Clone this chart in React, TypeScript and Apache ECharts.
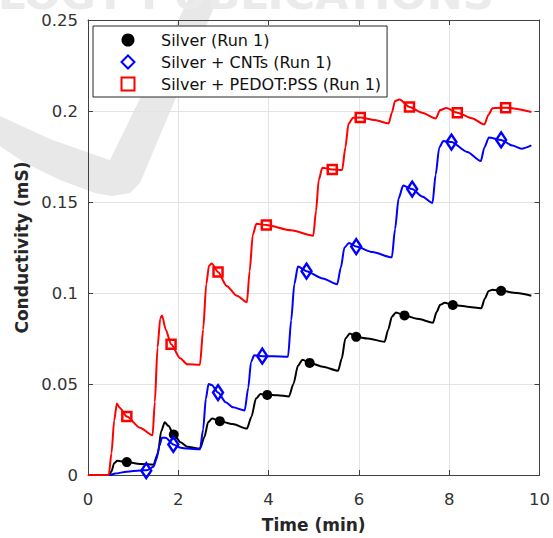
import React, { useEffect, useRef } from "react";
import * as echarts from "echarts";

// ---- Data (time in min, conductivity in mS) ----
const silverLine: [number, number][] = [
  [0, 0], [0.47, 0], [0.52, 0.002], [0.58, 0.0065], [0.65, 0.0078], [0.86, 0.0071], [1.15, 0.0061],
  [1.45, 0.0057], [1.55, 0.012], [1.62, 0.024], [1.7, 0.029], [1.78, 0.027], [1.9, 0.0222], [2.05, 0.018],
  [2.2, 0.0155], [2.48, 0.0145], [2.58, 0.021], [2.66, 0.029], [2.75, 0.031], [2.92, 0.0296], [3.2, 0.028],
  [3.52, 0.0255], [3.62, 0.032], [3.72, 0.042], [3.82, 0.0445], [3.97, 0.044], [4.2, 0.0438], [4.45, 0.0432],
  [4.55, 0.05], [4.65, 0.06], [4.75, 0.0633], [4.91, 0.0616], [5.2, 0.0595], [5.54, 0.0573], [5.62, 0.064],
  [5.7, 0.075], [5.8, 0.0778], [5.94, 0.0759], [6.2, 0.075], [6.57, 0.0732], [6.65, 0.08], [6.73, 0.087],
  [6.82, 0.0893], [7.01, 0.0877], [7.3, 0.0858], [7.64, 0.0837], [7.72, 0.0895], [7.8, 0.0935], [7.9, 0.0946],
  [8.08, 0.0934], [8.4, 0.0925], [8.71, 0.0916], [8.79, 0.097], [8.87, 0.101], [8.96, 0.1018], [9.15, 0.1012],
  [9.5, 0.1], [9.82, 0.0985],
];
const silverMarkers: [number, number][] = [
  [0.86, 0.0071], [1.9, 0.0222], [2.92, 0.0296], [3.97, 0.044], [4.91, 0.0616],
  [5.94, 0.0759], [7.01, 0.0877], [8.08, 0.0934], [9.15, 0.1012],
];

const cntLine: [number, number][] = [
  [0, 0], [0.49, 0], [0.6, 0.0008], [0.86, 0.0018], [1.15, 0.0025], [1.3, 0.0026], [1.45, 0.0045],
  [1.52, 0.009], [1.58, 0.016], [1.64, 0.0205], [1.72, 0.0205], [1.89, 0.0168], [2.05, 0.015], [2.2, 0.0145],
  [2.48, 0.0142], [2.55, 0.025], [2.61, 0.042], [2.67, 0.05], [2.74, 0.0495], [2.88, 0.0453], [3.05, 0.04],
  [3.21, 0.0372], [3.47, 0.0355], [3.55, 0.048], [3.61, 0.062], [3.68, 0.0658], [3.86, 0.0653], [4.1, 0.0652],
  [4.43, 0.065], [4.5, 0.085], [4.57, 0.105], [4.65, 0.1145], [4.84, 0.112], [5.2, 0.108], [5.52, 0.1048],
  [5.6, 0.114], [5.68, 0.125], [5.78, 0.1275], [5.94, 0.1255], [6.3, 0.1225], [6.73, 0.1196], [6.8, 0.135],
  [6.88, 0.152], [6.98, 0.159], [7.18, 0.1571], [7.4, 0.153], [7.63, 0.1495], [7.7, 0.165], [7.78, 0.18],
  [7.87, 0.1835], [8.05, 0.1829], [8.4, 0.1775], [8.7, 0.1725], [8.78, 0.18], [8.88, 0.1855], [9.15, 0.1841],
  [9.4, 0.181], [9.6, 0.1793], [9.82, 0.1811],
];
const cntMarkers: [number, number][] = [
  [1.29, 0.0024], [1.89, 0.0168], [2.88, 0.0453], [3.86, 0.0653], [4.84, 0.112],
  [5.94, 0.1255], [7.18, 0.1571], [8.05, 0.1829], [9.15, 0.1841],
];

const pedotLine: [number, number][] = [
  [0, 0], [0.46, 0], [0.52, 0.012], [0.58, 0.03], [0.64, 0.0393], [0.7, 0.037], [0.86, 0.0321],
  [1.15, 0.026], [1.43, 0.0218], [1.48, 0.04], [1.54, 0.07], [1.6, 0.086], [1.64, 0.0877], [1.72, 0.08],
  [1.84, 0.0718], [2.04, 0.0642], [2.2, 0.0608], [2.48, 0.0606], [2.55, 0.08], [2.62, 0.105], [2.68, 0.115],
  [2.74, 0.1162], [2.88, 0.1115], [3.07, 0.1039], [3.3, 0.0985], [3.52, 0.0949], [3.58, 0.112], [3.65, 0.132],
  [3.73, 0.1381], [3.95, 0.1373], [4.5, 0.1345], [4.99, 0.1315], [5.05, 0.145], [5.11, 0.162], [5.19, 0.1688],
  [5.41, 0.1679], [5.63, 0.1676], [5.7, 0.18], [5.77, 0.193], [5.87, 0.1963], [6.03, 0.1964], [6.35, 0.195],
  [6.66, 0.1932], [6.73, 0.199], [6.8, 0.2055], [6.9, 0.2063], [7.12, 0.2022], [7.4, 0.199], [7.7, 0.1959],
  [7.8, 0.2005], [7.94, 0.2017], [8.18, 0.1991], [8.5, 0.196], [8.78, 0.1926], [8.87, 0.198], [8.96, 0.2015],
  [9.04, 0.2017], [9.25, 0.2018], [9.82, 0.1995],
];
const pedotMarkers: [number, number][] = [
  [0.86, 0.0321], [1.84, 0.0718], [2.88, 0.1115], [3.95, 0.1373], [5.41, 0.1679],
  [6.03, 0.1964], [7.12, 0.2022], [8.18, 0.1991], [9.25, 0.2018],
];

const seriesNames = ["Silver (Run 1)", "Silver + CNTs (Run 1)", "Silver + PEDOT:PSS (Run 1)"];
const xTitle = "Time (min)";
const yTitle = "Conductivity (mS)";
const watermarkText = "LOGY PUBLICATIONS";
const watermarkShape: number[][] = [
  [188, 0], [217, 0], [140, 183], [130, 193], [112, 196], [95, 193], [60, 180], [25, 163], [0, 146],
  [0, 116], [50, 139], [95, 155], [110, 160],
];

const FONT = "DejaVu Sans, Liberation Sans, Arial, sans-serif";
const AX = "#404040";

export default function App() {
  const ref = useRef<HTMLDivElement>(null);
  useEffect(() => {
    if (!ref.current) return;
    const chart = echarts.init(ref.current, undefined, { renderer: "svg" });
    const lineBase = (data: [number, number][], color: string) => ({
      type: "line" as const,
      data,
      showSymbol: false,
      symbol: "none",
      smooth: 0.25,
      smoothMonotone: "x" as const,
      lineStyle: { color, width: 2 },
      itemStyle: { color },
      z: 3,
      silent: true,
    });
    const axisCommon = {
      axisLine: { show: true, onZero: false, lineStyle: { color: AX, width: 1 } },
      axisTick: { show: true, inside: true, length: 5, lineStyle: { color: AX } },
    };
    chart.setOption({
      animation: false,
      backgroundColor: "#ffffff",
      textStyle: { fontFamily: FONT },
      graphic: [
        {
          type: "polygon",
          z: -10,
          silent: true,
          shape: { points: watermarkShape },
          style: { fill: "#e8e8e8" },
        },
        {
          type: "text",
          z: -10,
          silent: true,
          x: -2,
          y: -6,
          style: {
            text: watermarkText,
            fontSize: 43,
            fontWeight: "bold",
            fontFamily: FONT,
            fill: "#ebebeb",
            verticalAlign: "middle",
          },
        },
      ],
      grid: { left: 88, right: 13.5, top: 20, bottom: 55.5, containLabel: false },
      legend: {
        orient: "vertical",
        left: 93,
        top: 26,
        padding: [5, 6, 4, 27.5],
        itemWidth: 13,
        itemHeight: 13,
        itemGap: 4,
        backgroundColor: "#ffffff",
        borderColor: "#262626",
        borderWidth: 1,
        borderRadius: 0,
        textStyle: {
          fontSize: 16,
          color: "#111",
          fontFamily: FONT,
          lineHeight: 18,
          padding: [0, 0, 0, 21.5],
        },
        data: seriesNames,
        selectedMode: false,
      },
      xAxis: [
        {
          type: "value",
          min: 0,
          max: 10,
          interval: 2,
          position: "bottom",
          ...axisCommon,
          axisLabel: { color: "#333", fontSize: 16.5, fontFamily: FONT, margin: 16 },
          splitLine: { show: true, lineStyle: { color: "#e3e3e3", width: 1 } },
          name: xTitle,
          nameLocation: "middle",
          nameGap: 41,
          nameTextStyle: { fontWeight: "bold", fontSize: 17, color: "#262626", fontFamily: FONT },
        },
        {
          type: "value",
          min: 0,
          max: 10,
          interval: 2,
          position: "top",
          ...axisCommon,
          axisLabel: { show: false },
          splitLine: { show: false },
        },
      ],
      yAxis: [
        {
          type: "value",
          min: 0,
          max: 0.25,
          interval: 0.05,
          position: "left",
          ...axisCommon,
          axisLabel: {
            color: "#333",
            fontSize: 16.5,
            fontFamily: FONT,
            margin: 10,
            formatter: (v: number) => String(+v.toFixed(2)),
          },
          splitLine: { show: true, lineStyle: { color: "#e3e3e3", width: 1 } },
          name: yTitle,
          nameLocation: "middle",
          nameGap: 52,
          nameTextStyle: { fontWeight: "bold", fontSize: 17, color: "#262626", fontFamily: FONT },
        },
        {
          type: "value",
          min: 0,
          max: 0.25,
          interval: 0.05,
          position: "right",
          ...axisCommon,
          axisLabel: { show: false },
          splitLine: { show: false },
        },
      ],
      series: [
        lineBase(silverLine, "#000000"),
        {
          type: "scatter",
          name: seriesNames[0],
          data: silverMarkers,
          symbol: "circle",
          symbolSize: 10,
          itemStyle: { color: "#000000", opacity: 1 },
          z: 4,
        },
        lineBase(cntLine, "#0000ff"),
        {
          type: "scatter",
          name: seriesNames[1],
          data: cntMarkers,
          symbol: "diamond",
          symbolSize: [10, 15],
          itemStyle: { color: "rgba(255,255,255,0)", borderColor: "#0000ff", borderWidth: 2.5, opacity: 1 },
          z: 4,
        },
        lineBase(pedotLine, "#ff0000"),
        {
          type: "scatter",
          name: seriesNames[2],
          data: pedotMarkers,
          symbol: "rect",
          symbolSize: 9,
          itemStyle: { color: "rgba(255,255,255,0)", borderColor: "#ff0000", borderWidth: 2.5, opacity: 1 },
          z: 4,
        },
      ],
    });
    return () => chart.dispose();
  }, []);
  return (
    <div
      ref={ref}
      style={{ position: "absolute", left: 0, top: 0, width: 553, height: 538 }}
    />
  );
}
